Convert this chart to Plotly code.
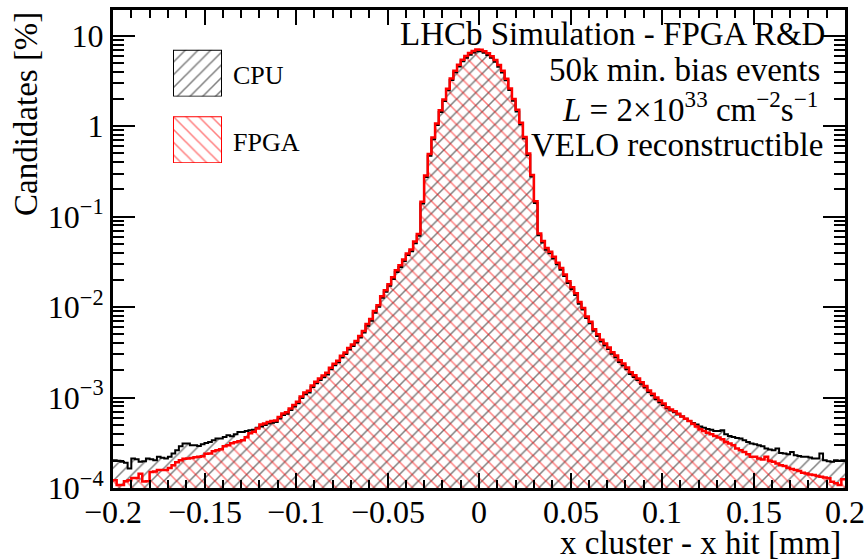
import numpy as np
import plotly.graph_objects as go

# ---------------- data (percent of candidates per 0.002 mm bin) ----------------
x_low, x_high, n_bins = -0.2, 0.2, 200

fpga = [
    1.22e-4, 1.08e-4, 1.08e-4, 1.19e-4, 1.22e-4, 1.29e-4, 1.29e-4, 1.44e-4, 1.18e-4, 1.19e-4,
    1.50e-4, 1.52e-4, 1.58e-4, 1.58e-4, 1.58e-4, 1.66e-4, 1.79e-4, 1.93e-4, 2.03e-4, 2.11e-4,
    2.12e-4, 2.14e-4, 2.19e-4, 2.21e-4, 2.25e-4, 2.39e-4, 2.40e-4, 2.55e-4, 2.62e-4, 2.69e-4,
    2.89e-4, 2.97e-4, 3.12e-4, 3.20e-4, 3.28e-4, 3.37e-4, 3.63e-4, 4.02e-4, 4.18e-4, 4.56e-4,
    5.05e-4, 5.18e-4, 5.38e-4, 5.50e-4, 5.59e-4, 6.11e-4, 6.67e-4, 6.90e-4, 7.57e-4, 8.30e-4,
    9.00e-4, 1.03e-3, 1.14e-3, 1.19e-3, 1.36e-3, 1.50e-3, 1.62e-3, 1.75e-3, 1.88e-3, 2.14e-3,
    2.37e-3, 2.55e-3, 2.90e-3, 3.16e-3, 3.54e-3, 3.87e-3, 4.23e-3, 4.80e-3, 5.45e-3, 6.50e-3,
    7.38e-3, 9.04e-3, 1.05e-2, 1.32e-2, 1.54e-2, 1.79e-2, 2.14e-2, 2.55e-2, 2.90e-2, 3.37e-2,
    3.92e-2, 4.33e-2, 5.31e-2, 6.43e-2, 0.146, 0.286, 0.492, 0.750, 1.07, 1.50,
    1.98, 2.60, 3.37, 4.12, 4.78, 5.45, 5.98, 6.44, 6.79, 7.05,
    7.02, 6.75, 6.40, 5.95, 5.40, 4.75, 4.10, 3.35, 2.62, 2.00,
    1.52, 1.09, 0.760, 0.500, 0.290, 0.148, 6.5e-2, 5.4e-2, 4.5e-2, 4.1e-2,
    3.6e-2, 3.1e-2, 2.7e-2, 2.3e-2, 1.93e-2, 1.66e-2, 1.42e-2, 1.14e-2, 9.8e-3, 7.9e-3,
    6.9e-3, 5.7e-3, 5.0e-3, 4.35e-3, 3.95e-3, 3.58e-3, 3.18e-3, 2.92e-3, 2.58e-3, 2.38e-3,
    2.15e-3, 1.90e-3, 1.76e-3, 1.62e-3, 1.48e-3, 1.34e-3, 1.20e-3, 1.10e-3, 1.00e-3, 9.3e-4,
    8.6e-4, 7.82e-4, 7.38e-4, 7.07e-4, 6.62e-4, 6.18e-4, 5.83e-4, 5.49e-4, 5.14e-4, 4.80e-4,
    4.45e-4, 4.26e-4, 4.09e-4, 3.92e-4, 3.76e-4, 3.61e-4, 3.45e-4, 3.23e-4, 3.10e-4, 2.97e-4,
    2.73e-4, 2.62e-4, 2.50e-4, 2.36e-4, 2.21e-4, 2.21e-4, 2.12e-4, 2.07e-4, 2.21e-4, 2.00e-4,
    1.95e-4, 1.87e-4, 1.79e-4, 1.75e-4, 1.67e-4, 1.62e-4, 1.58e-4, 1.54e-4, 1.47e-4, 1.45e-4,
    1.41e-4, 1.39e-4, 1.36e-4, 1.33e-4, 1.31e-4, 1.28e-4, 1.17e-4, 1.13e-4, 1.08e-4, 1.25e-4,
]

cpu = [
    2.03e-4, 2.00e-4, 1.95e-4, 1.90e-4, 1.64e-4, 2.12e-4, 2.08e-4, 1.95e-4, 1.98e-4, 2.12e-4,
    2.08e-4, 2.03e-4, 2.21e-4, 2.16e-4, 2.12e-4, 2.21e-4, 2.40e-4, 2.62e-4, 2.89e-4, 3.10e-4,
    3.10e-4, 2.97e-4, 2.97e-4, 2.92e-4, 3.05e-4, 3.15e-4, 3.22e-4, 3.37e-4, 3.52e-4, 3.52e-4,
    3.66e-4, 3.82e-4, 3.73e-4, 3.92e-4, 4.16e-4, 4.16e-4, 4.26e-4, 4.34e-4, 4.41e-4, 4.64e-4,
    4.80e-4, 4.97e-4, 5.16e-4, 5.28e-4, 5.37e-4, 5.87e-4, 6.40e-4, 6.62e-4, 7.27e-4, 7.97e-4,
    8.64e-4, 9.89e-4, 1.09e-3, 1.14e-3, 1.31e-3, 1.44e-3, 1.56e-3, 1.68e-3, 1.80e-3, 2.05e-3,
    2.28e-3, 2.45e-3, 2.78e-3, 3.03e-3, 3.40e-3, 3.72e-3, 4.06e-3, 4.61e-3, 5.23e-3, 6.24e-3,
    7.08e-3, 8.68e-3, 1.01e-2, 1.27e-2, 1.48e-2, 1.72e-2, 2.05e-2, 2.45e-2, 2.78e-2, 3.24e-2,
    3.76e-2, 4.16e-2, 5.10e-2, 6.17e-2, 0.140, 0.275, 0.472, 0.720, 1.03, 1.44,
    1.90, 2.50, 3.24, 3.96, 4.59, 5.23, 5.74, 6.18, 6.52, 6.77,
    6.74, 6.48, 6.14, 5.71, 5.18, 4.56, 3.94, 3.22, 2.52, 1.92,
    1.46, 1.05, 0.730, 0.480, 0.278, 0.142, 6.24e-2, 5.18e-2, 4.32e-2, 3.94e-2,
    3.46e-2, 2.98e-2, 2.59e-2, 2.21e-2, 1.85e-2, 1.59e-2, 1.36e-2, 1.09e-2, 9.41e-3, 7.58e-3,
    6.62e-3, 5.47e-3, 4.80e-3, 4.18e-3, 3.79e-3, 3.44e-3, 3.05e-3, 2.80e-3, 2.48e-3, 2.28e-3,
    2.06e-3, 1.82e-3, 1.69e-3, 1.56e-3, 1.42e-3, 1.29e-3, 1.15e-3, 1.06e-3, 9.6e-4, 8.9e-4,
    8.3e-4, 7.6e-4, 7.2e-4, 6.9e-4, 6.5e-4, 6.18e-4, 5.83e-4, 5.49e-4, 5.22e-4, 5.05e-4,
    4.80e-4, 4.64e-4, 4.49e-4, 4.41e-4, 4.26e-4, 4.26e-4, 4.34e-4, 3.92e-4, 3.76e-4, 3.66e-4,
    3.57e-4, 3.52e-4, 3.37e-4, 3.22e-4, 3.10e-4, 3.05e-4, 2.97e-4, 2.89e-4, 2.73e-4, 2.66e-4,
    2.62e-4, 2.73e-4, 2.44e-4, 2.40e-4, 2.36e-4, 2.50e-4, 2.30e-4, 2.26e-4, 2.21e-4, 2.21e-4,
    2.17e-4, 2.12e-4, 2.12e-4, 2.40e-4, 2.03e-4, 1.98e-4, 1.95e-4, 2.03e-4, 2.00e-4, 2.03e-4,
]

x_tick_vals = [-0.2, -0.15, -0.1, -0.05, 0, 0.05, 0.1, 0.15, 0.2]
x_tick_text = ["\u22120.2", "\u22120.15", "\u22120.1", "\u22120.05", "0", "0.05", "0.1", "0.15", "0.2"]
y_tick_vals = [1e-4, 1e-3, 1e-2, 1e-1, 1, 10]
y_tick_text = ["10<sup>\u22124</sup>", "10<sup>\u22123</sup>", "10<sup>\u22122</sup>",
               "10<sup>\u22121</sup>", "1", "10"]
series_names = ["CPU", "FPGA"]
info_lines = ["LHCb Simulation - FPGA R&D",
              "50k min. bias events",
              "<i>L</i> = 2\u00d710<sup>33</sup> cm<sup>\u22122</sup>s<sup>\u22121</sup>",
              "VELO reconstructible"]

# ---------------- figure ----------------
FONT = "Liberation Serif"
width = (x_high - x_low) / n_bins
edges = x_low + width * np.arange(n_bins + 1)
centers = 0.5 * (edges[:-1] + edges[1:])

HATCH_SIZE, HATCH_SOL = 9, 0.17

fig = go.Figure()

def hatched_bar(vals, shape, color):
    return go.Bar(x=centers, y=vals, width=width,
                  marker=dict(color="rgba(0,0,0,0)", line=dict(width=0),
                              pattern=dict(shape=shape, fgcolor=color, bgcolor="rgba(0,0,0,0)",
                                           size=HATCH_SIZE, solidity=HATCH_SOL, fillmode="overlay")),
                  showlegend=False, hoverinfo="skip")

def step_line(vals, color, lw):
    return go.Scatter(x=edges, y=list(vals) + [vals[-1]], mode="lines", line_shape="hv",
                      line=dict(color=color, width=lw), showlegend=False, hoverinfo="skip")

fig.add_trace(hatched_bar(cpu, "/", "black"))
fig.add_trace(hatched_bar(fpga, "\\", "red"))
fig.add_trace(step_line(cpu, "black", 2))
fig.add_trace(step_line(fpga, "red", 2.5))

# legend boxes drawn as hatched bars on hidden helper axes
W, H = 868, 560
L, R, T, B = 113, 845, 7, 488
pw, ph = R - L, B - T
def fx(px): return (px - L) / pw
def fy(py): return (B - py) / ph

boxes = [((173, 222, 47, 94), "/", "black"), ((173, 222, 114, 161), "\\", "red")]
for n, ((x0, x1, y0, y1), shp, col) in enumerate(boxes):
    k = n + 2
    fig.add_trace(go.Bar(x=[0.5], y=[1], width=1, xaxis=f"x{k}", yaxis=f"y{k}",
                         marker=dict(color="rgba(0,0,0,0)", line=dict(color=col, width=2),
                                     pattern=dict(shape=shp, fgcolor=col, bgcolor="rgba(0,0,0,0)",
                                                  size=HATCH_SIZE, solidity=HATCH_SOL,
                                                  fillmode="overlay")),
                         showlegend=False, hoverinfo="skip"))
    fig.layout[f"xaxis{k}"] = dict(domain=[fx(x0), fx(x1)], range=[0, 1], visible=False,
                                   anchor=f"y{k}", fixedrange=True)
    fig.layout[f"yaxis{k}"] = dict(domain=[fy(y1), fy(y0)], range=[0, 1], visible=False,
                                   anchor=f"x{k}", fixedrange=True)

axis_common = dict(showline=True, linecolor="black", linewidth=3, mirror="ticks",
                   ticks="inside", tickcolor="black", tickwidth=1.5, showgrid=False,
                   zeroline=False, tickfont=dict(family=FONT, size=32, color="black"))

minor_y = [m * 10.0 ** e for e in range(-4, 2) for m in range(2, 10)]
fig.update_layout(
    width=W, height=H,
    margin=dict(l=L, r=W - R, t=T, b=H - B, pad=0),
    paper_bgcolor="white", plot_bgcolor="white",
    bargap=0, barmode="overlay",
    xaxis=dict(range=[x_low, x_high], tickvals=x_tick_vals, showticklabels=False,
               ticklen=15, minor=dict(ticks="inside", ticklen=8, dtick=0.01, tick0=0,
                                       tickcolor="black", tickwidth=1.5),
               **axis_common),
    yaxis=dict(type="log", range=[-4, np.log10(19.3)], tickvals=y_tick_vals,
               ticktext=y_tick_text, ticklen=22,
               minor=dict(ticks="inside", ticklen=11, tickvals=minor_y,
                          tickcolor="black", tickwidth=1.5),
               **axis_common),
    font=dict(family=FONT, color="black"),
)

ann = []
# x tick labels as text placed at the tick values
for v, t in zip(x_tick_vals, x_tick_text):
    ann.append(dict(text=t, x=v, y=fy(512), xref="x", yref="paper",
                    xanchor="center", yanchor="middle", showarrow=False,
                    font=dict(family=FONT, size=32, color="black")))
ann.append(dict(text="Candidates [%]", x=fx(26), y=1.0, xref="paper", yref="paper",
                xanchor="center", yanchor="top", textangle=-90, showarrow=False,
                font=dict(family=FONT, size=33, color="black")))
ann.append(dict(text="x cluster - x hit [mm]", x=fx(843), y=fy(543), xref="paper", yref="paper",
                xanchor="right", yanchor="middle", showarrow=False,
                font=dict(family=FONT, size=33, color="black")))
info_right = [827, 822, 820, 825]
info_y = [31, 67, 105, 143]
for txt, xr, yc in zip(info_lines, info_right, info_y):
    ann.append(dict(text=txt, x=fx(xr), y=fy(yc), xref="paper", yref="paper",
                    xanchor="right", yanchor="middle", showarrow=False,
                    font=dict(family=FONT, size=33, color="black")))
for name, yc in zip(series_names, [73, 140]):
    ann.append(dict(text=name, x=fx(231), y=fy(yc), xref="paper", yref="paper",
                    xanchor="left", yanchor="middle", showarrow=False,
                    font=dict(family=FONT, size=26, color="black")))
fig.update_layout(annotations=ann)

fig.write_html("out.html")
